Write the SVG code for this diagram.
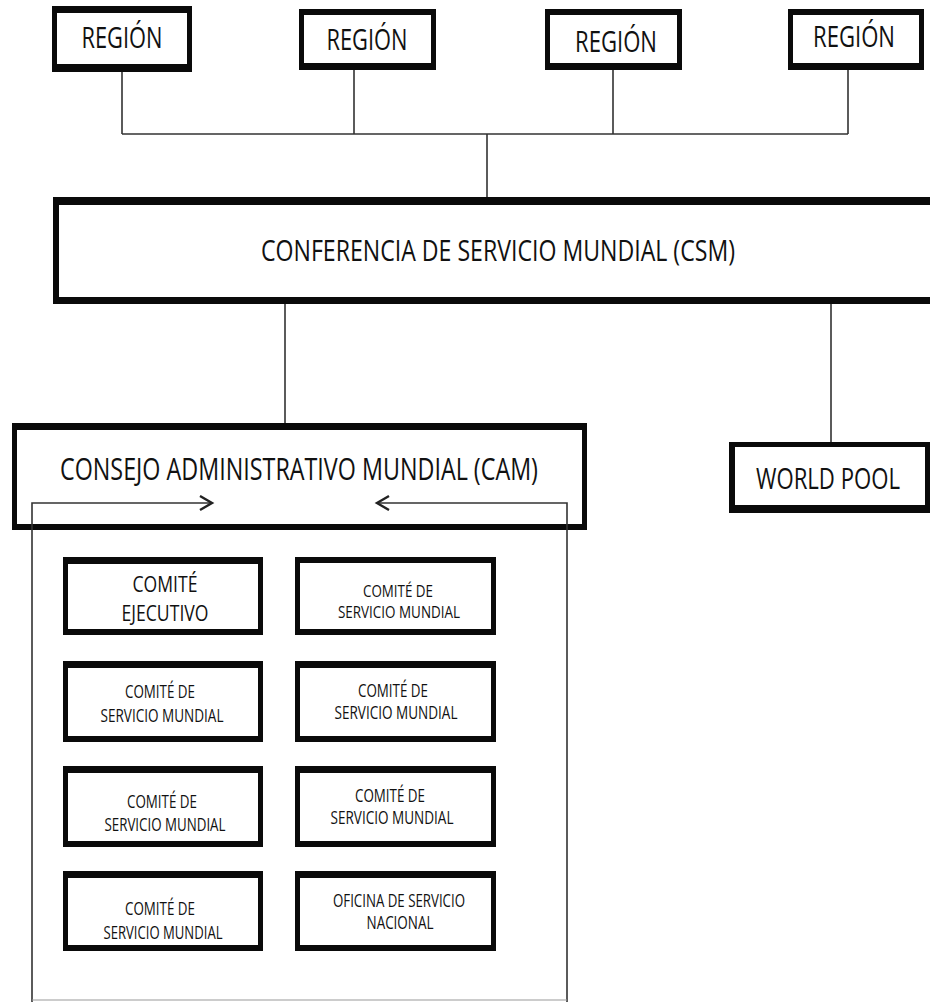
<svg xmlns="http://www.w3.org/2000/svg" width="930" height="1002" viewBox="0 0 930 1002">
<style>
.o{fill:#0a0a0a}
.i{fill:#ffffff}
.t{font-family:"Liberation Sans Narrow","Open Sans","Liberation Sans",sans-serif;fill:#111;text-anchor:middle}
.c{fill:none;stroke:#333;stroke-width:1.6}
</style>
<defs>
<marker id="chev" markerUnits="userSpaceOnUse" markerWidth="16" markerHeight="18" refX="13" refY="8" orient="auto">
<path d="M1,1 L13,8 L1,15" fill="none" stroke="#222" stroke-width="2.4"/>
</marker>
</defs>
<rect width="930" height="1002" fill="#fff"/>
<g id="region1"><rect class="o" x="52" y="6" width="140" height="66"/><rect class="i" x="57" y="13" width="130" height="51"/><text class="t" x="122" y="48" font-size="29" textLength="81" lengthAdjust="spacingAndGlyphs">REGIÓN</text></g>
<g id="region2"><rect class="o" x="299" y="9" width="137" height="61"/><rect class="i" x="304" y="15" width="127" height="48"/><text class="t" x="367" y="50" font-size="29" textLength="81" lengthAdjust="spacingAndGlyphs">REGIÓN</text></g>
<g id="region3"><rect class="o" x="545" y="9" width="137" height="61"/><rect class="i" x="550" y="15" width="127" height="48"/><text class="t" x="616" y="52" font-size="29" textLength="82" lengthAdjust="spacingAndGlyphs">REGIÓN</text></g>
<g id="region4"><rect class="o" x="788" y="9" width="136" height="61"/><rect class="i" x="793" y="15" width="126" height="48"/><text class="t" x="854" y="47" font-size="29" textLength="82" lengthAdjust="spacingAndGlyphs">REGIÓN</text></g>
<g id="csm"><rect class="o" x="53" y="197" width="890" height="107"/><rect class="i" x="59" y="205" width="890" height="92"/><text class="t" x="498" y="261" font-size="30" textLength="474" lengthAdjust="spacingAndGlyphs">CONFERENCIA DE SERVICIO MUNDIAL (CSM)</text></g>
<g id="cam"><rect class="o" x="12" y="423" width="575" height="107"/><rect class="i" x="17" y="430" width="565" height="94"/><text class="t" x="299" y="480" font-size="31" textLength="478" lengthAdjust="spacingAndGlyphs">CONSEJO ADMINISTRATIVO MUNDIAL (CAM)</text></g>
<g id="worldpool"><rect class="o" x="729" y="442" width="201" height="71"/><rect class="i" x="735" y="447" width="190" height="58"/><text class="t" x="828" y="489" font-size="29" textLength="144" lengthAdjust="spacingAndGlyphs">WORLD POOL</text></g>
<g id="comite-ejecutivo"><rect class="o" x="63" y="557" width="200" height="78"/><rect class="i" x="68" y="564" width="190" height="65"/><text class="t" x="165" y="592" font-size="22" textLength="65" lengthAdjust="spacingAndGlyphs">COMITÉ</text><text class="t" x="165" y="621" font-size="22" textLength="87" lengthAdjust="spacingAndGlyphs">EJECUTIVO</text></g>
<g id="csm-comite1"><rect class="o" x="295" y="557" width="201" height="78"/><rect class="i" x="300" y="563" width="191" height="66"/><text class="t" x="398" y="597" font-size="17" textLength="70" lengthAdjust="spacingAndGlyphs">COMITÉ DE</text><text class="t" x="399" y="618" font-size="17" textLength="122" lengthAdjust="spacingAndGlyphs">SERVICIO MUNDIAL</text></g>
<g id="csm-comite2"><rect class="o" x="63" y="661" width="200" height="81"/><rect class="i" x="68" y="668" width="190" height="68"/><text class="t" x="160" y="698" font-size="18" textLength="70" lengthAdjust="spacingAndGlyphs">COMITÉ DE</text><text class="t" x="162" y="722" font-size="18" textLength="123" lengthAdjust="spacingAndGlyphs">SERVICIO MUNDIAL</text></g>
<g id="csm-comite3"><rect class="o" x="295" y="661" width="201" height="81"/><rect class="i" x="300" y="668" width="191" height="68"/><text class="t" x="393" y="697" font-size="18" textLength="70" lengthAdjust="spacingAndGlyphs">COMITÉ DE</text><text class="t" x="396" y="719" font-size="18" textLength="123" lengthAdjust="spacingAndGlyphs">SERVICIO MUNDIAL</text></g>
<g id="csm-comite4"><rect class="o" x="63" y="766" width="200" height="81"/><rect class="i" x="68" y="773" width="190" height="68"/><text class="t" x="162" y="808" font-size="18" textLength="70" lengthAdjust="spacingAndGlyphs">COMITÉ DE</text><text class="t" x="165" y="831" font-size="18" textLength="121" lengthAdjust="spacingAndGlyphs">SERVICIO MUNDIAL</text></g>
<g id="csm-comite5"><rect class="o" x="295" y="766" width="201" height="81"/><rect class="i" x="300" y="773" width="191" height="68"/><text class="t" x="390" y="802" font-size="18" textLength="70" lengthAdjust="spacingAndGlyphs">COMITÉ DE</text><text class="t" x="392" y="824" font-size="18" textLength="123" lengthAdjust="spacingAndGlyphs">SERVICIO MUNDIAL</text></g>
<g id="csm-comite6"><rect class="o" x="63" y="871" width="200" height="80"/><rect class="i" x="68" y="878" width="190" height="67"/><text class="t" x="160" y="915" font-size="18" textLength="70" lengthAdjust="spacingAndGlyphs">COMITÉ DE</text><text class="t" x="163" y="939" font-size="18" textLength="119" lengthAdjust="spacingAndGlyphs">SERVICIO MUNDIAL</text></g>
<g id="oficina-servicio-nacional"><rect class="o" x="295" y="871" width="201" height="80"/><rect class="i" x="300" y="878" width="191" height="67"/><text class="t" x="399" y="907" font-size="18" textLength="132" lengthAdjust="spacingAndGlyphs">OFICINA DE SERVICIO</text><text class="t" x="400" y="929" font-size="18" textLength="67" lengthAdjust="spacingAndGlyphs">NACIONAL</text></g>
<g id="connectors">
<path class="c" d="M122,72 V134 M354,70 V134 M613,70 V134 M848,70 V134 M122,134 H848 M487,134 V197"/>
<path class="c" d="M285,304 V423 M831,304 V442"/>
<path class="c" d="M32,1002 V503 H212" marker-end="url(#chev)"/>
<path class="c" d="M567,1002 V503 H377" marker-end="url(#chev)"/>
<path d="M32,1000 H567" fill="none" stroke="#999" stroke-width="1"/>
</g>
</svg>
